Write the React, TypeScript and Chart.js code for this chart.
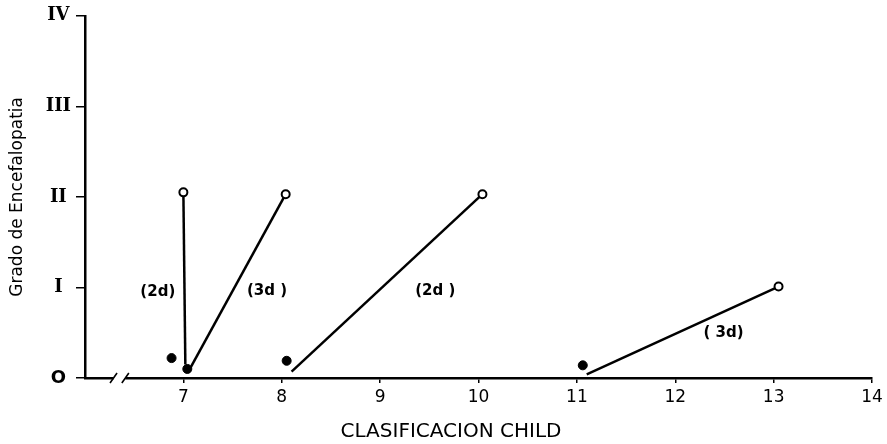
import React, { useEffect, useRef } from 'react';
import { Chart, registerables } from 'chart.js';

Chart.register(...registerables);

// Axis definitions
const xMin = 6;
const xMax = 14;
const yTickLabels = ['O', 'I', 'II', 'III', 'IV'];
const breakStart = 6.29;
const breakEnd = 6.41;

// Open circles (start of each segment)
const openX = [7.0, 8.04, 10.04, 13.05];
const openY = [2.05, 2.03, 2.03, 1.01];
// End of each segment (near the filled dots)
const endX = [7.02, 7.07, 8.1, 11.1];
const endY = [0.15, 0.11, 0.07, 0.04];
// Filled dots
const filledX = [6.88, 7.04, 8.05, 11.06];
const filledY = [0.22, 0.1, 0.19, 0.14];
// Duration labels
const durationLabels = ['(2d)', '(3d )', '(2d )', '( 3d)'];
const labelX = [6.74, 7.85, 9.56, 12.49];
const labelY = [0.95, 0.96, 0.96, 0.5];

const annotations = {
  id: 'annotations',
  afterDatasetsDraw(chart: any) {
    const { ctx, scales } = chart;
    const x = scales.x;
    const y = scales.y;
    ctx.save();
    ctx.fillStyle = '#000';
    ctx.font = 'bold 15px "DejaVu Sans"';
    ctx.textAlign = 'center';
    ctx.textBaseline = 'middle';
    durationLabels.forEach((t, i) => {
      ctx.fillText(t, x.getPixelForValue(labelX[i]), y.getPixelForValue(labelY[i]));
    });
    // axis break
    const y0 = y.getPixelForValue(0);
    const b1 = x.getPixelForValue(breakStart);
    const b2 = x.getPixelForValue(breakEnd);
    ctx.fillStyle = '#fff';
    ctx.fillRect(b1, y0 - 3, b2 - b1, 6);
    ctx.strokeStyle = '#000';
    ctx.lineWidth = 1.6;
    ctx.beginPath();
    for (const b of [b1, b2]) {
      ctx.moveTo(b - 3.5, y0 + 5);
      ctx.lineTo(b + 3.5, y0 - 5);
    }
    ctx.stroke();
    ctx.restore();
  },
};

export default function App() {
  const ref = useRef<HTMLCanvasElement>(null);
  useEffect(() => {
    if (!ref.current) return;
    const segments = openX.map((ox, i) => ({
      type: 'line' as const,
      data: [
        { x: ox, y: openY[i] },
        { x: endX[i], y: endY[i] },
      ],
      borderColor: '#000',
      borderWidth: 2.5,
      pointRadius: 0,
      showLine: true,
      fill: false,
      order: 3,
    }));
    const chart = new Chart(ref.current, {
      type: 'scatter',
      data: {
        datasets: [
          ...segments,
          {
            type: 'scatter' as const,
            data: filledX.map((fx, i) => ({ x: fx, y: filledY[i] })),
            pointRadius: 4.5,
            pointBackgroundColor: '#000',
            pointBorderColor: '#000',
            pointBorderWidth: 1,
            order: 1,
          },
          {
            type: 'scatter' as const,
            data: openX.map((ox, i) => ({ x: ox, y: openY[i] })),
            pointRadius: 4,
            pointBackgroundColor: '#fff',
            pointBorderColor: '#000',
            pointBorderWidth: 2,
            order: 0,
          },
        ] as any,
      },
      options: {
        responsive: false,
        animation: false,
        events: [],
        layout: { padding: { top: 15, right: 0, left: 15, bottom: 0 } },
        plugins: {
          legend: { display: false },
          tooltip: { enabled: false },
          title: {
            display: true,
            position: 'bottom',
            text: 'CLASIFICACION CHILD',
            color: '#000',
            font: { family: 'DejaVu Sans', size: 20, weight: 'normal' },
            padding: { top: 0, bottom: 0 },
          },
        },
        scales: {
          x: {
            type: 'linear',
            min: xMin,
            max: xMax,
            afterFit: (s: any) => {
              s.height = 42;
              s.paddingRight = 15;
            },
            border: { display: true, color: '#000', width: 2.5 },
            grid: {
              display: true,
              drawOnChartArea: false,
              drawTicks: true,
              tickLength: 5,
              color: (c: any) => (c.tick && c.tick.value === xMin ? 'rgba(0,0,0,0)' : '#000'),
              lineWidth: 1.5,
            },
            ticks: {
              stepSize: 1,
              color: '#000',
              padding: 4,
              font: { family: 'DejaVu Sans', size: 17 },
              callback: (v: any) => (v === xMin ? '' : String(v)),
            },
          },
          y: {
            type: 'linear',
            min: 0,
            max: 4,
            afterFit: (s: any) => {
              s.width = 70;
            },
            border: { display: true, color: '#000', width: 2.5 },
            grid: {
              display: true,
              drawOnChartArea: false,
              drawTicks: true,
              tickLength: 9,
              color: '#000',
              lineWidth: 1.5,
            },
            ticks: {
              stepSize: 1,
              color: '#000',
              padding: 5,
              crossAlign: 'center',
              font: (c: any) =>
                c.tick && c.tick.value === 0
                  ? { family: 'DejaVu Sans', size: 18, weight: 'bold' }
                  : { family: 'DejaVu Serif', size: 18, weight: 'bold' },
              callback: (v: any) => yTickLabels[Math.round(v)] ?? '',
            },
            title: {
              display: true,
              text: 'Grado de Encefalopatia',
              color: '#000',
              font: { family: 'DejaVu Sans', size: 17 },
              padding: { top: -8, bottom: 0 },
            },
          },
        },
      },
      plugins: [annotations],
    });
    return () => chart.destroy();
  }, []);
  return (
    <div style={{ position: 'fixed', left: 0, top: 0, width: 887, height: 444, background: '#fff' }}>
      <canvas ref={ref} width={887} height={444} />
    </div>
  );
}
